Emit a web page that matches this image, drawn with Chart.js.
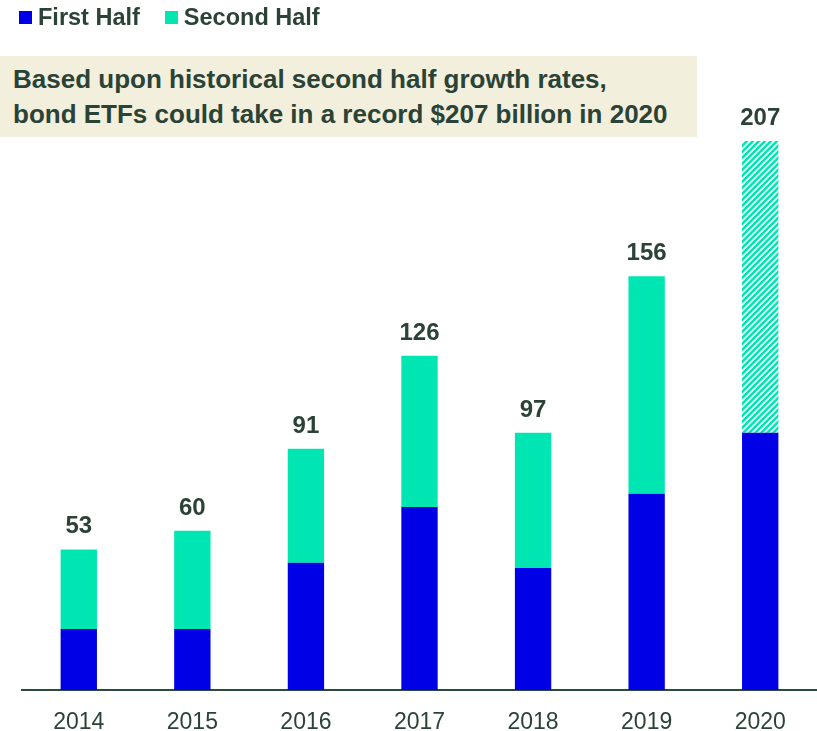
<!DOCTYPE html>
<html>
<head>
<meta charset="utf-8">
<script src="https://cdn.jsdelivr.net/npm/chart.js@4"></script>
<style>
  html, body { margin:0; padding:0; background:#fff; }
  #wrap { position:relative; width:817px; height:731px; overflow:hidden; }
  #c { position:absolute; left:0; top:0; }
  #legend { position:absolute; left:19px; top:4px; font:bold 23.5px "Liberation Sans", Arial, sans-serif; color:#2b4237; display:flex; align-items:center; white-space:nowrap; }
  #legend .sw { display:inline-block; width:13px; height:13px; margin-right:6px; }
  #legend .it { display:flex; align-items:center; margin-right:25px; }
  #note { position:absolute; left:0; top:56px; width:697px; height:81px; background:#f2efdc; }
  #note div { position:absolute; left:13px; font:bold 26px "Liberation Sans", Arial, sans-serif; line-height:26px; color:#2b4237; white-space:nowrap; }
</style>
</head>
<body>
<div id="wrap">
  <canvas id="c" width="817" height="731"></canvas>
  <div id="legend"></div>
  <div id="note"><div id="l1" style="top:10px">Based upon historical second half growth rates,</div><div id="l2" style="top:45px">bond ETFs could take in a record $207 billion in 2020</div></div>
</div>
<script>
const categories = ["2014","2015","2016","2017","2018","2019","2020"];
const firstHalf  = [23, 23, 48, 69, 46, 74, 97];
const secondHalf = [30, 37, 43, 57, 51, 82, 110];
const totalLabels = ["53","60","91","126","97","156","207"];
const seriesNames = ["First Half","Second Half"];
const projectedIndex = 6;

const BLUE = "#0000e6", TEAL = "#00e6b2", TEXT = "#2b4237";

// legend
const lg = document.getElementById('legend');
[BLUE, TEAL].forEach((c,i)=>{
  const it = document.createElement('span'); it.className='it';
  const sw = document.createElement('span'); sw.className='sw'; sw.style.background=c;
  it.appendChild(sw); it.appendChild(document.createTextNode(seriesNames[i])); lg.appendChild(it);
});

// hatch pattern
function hatch(){
  const p = document.createElement('canvas'); p.width=6; p.height=6;
  const g = p.getContext('2d');
  g.fillStyle='#fff'; g.fillRect(0,0,6,6);
  g.strokeStyle=TEAL; g.lineWidth=2.6;
  g.beginPath();
  g.moveTo(-1,7); g.lineTo(7,-1);
  g.moveTo(-4,4); g.lineTo(4,-4);
  g.moveTo(2,10); g.lineTo(10,2);
  g.stroke();
  return g.createPattern(p,'repeat');
}
const ctx = document.getElementById('c').getContext('2d');
const pat = hatch();

const labelPlugin = {
  id:'totals',
  afterDatasetsDraw(chart){
    const c = chart.ctx, y = chart.scales.y, x = chart.scales.x;
    c.save();
    c.font = 'bold 24px "Liberation Sans", Arial, sans-serif';
    c.fillStyle = TEXT; c.textAlign='center'; c.textBaseline='alphabetic';
    categories.forEach((cat,i)=>{
      const tot = firstHalf[i]+secondHalf[i];
      c.fillText(totalLabels[i], x.getPixelForValue(i), y.getPixelForValue(tot)-16);
    });
    c.restore();
  }
};

new Chart(ctx, {
  type:'bar',
  data:{
    labels:categories,
    datasets:[
      {label:seriesNames[0], data:firstHalf, backgroundColor:BLUE, borderWidth:0},
      {label:seriesNames[1], data:secondHalf, backgroundColor:secondHalf.map((v,i)=> i===projectedIndex ? pat : TEAL), borderWidth:0}
    ]
  },
  options:{
    responsive:false, animation:false,
    layout:{padding:{left:22, right:0, top:60, bottom:0}},
    datasets:{bar:{barPercentage:0.32, categoryPercentage:1}},
    plugins:{legend:{display:false}, tooltip:{enabled:false}},
    scales:{
      x:{stacked:true, grid:{display:false}, border:{display:true, color:'#2d4a3e', width:2},
         ticks:{color:TEXT, font:{family:'"Liberation Sans", Arial', size:23}, padding:11},
         afterFit(s){ s.height = 41; }},
      y:{stacked:true, display:false, min:0, max:207*630/549}
    }
  },
  plugins:[labelPlugin]
});
</script>
</body>
</html>
